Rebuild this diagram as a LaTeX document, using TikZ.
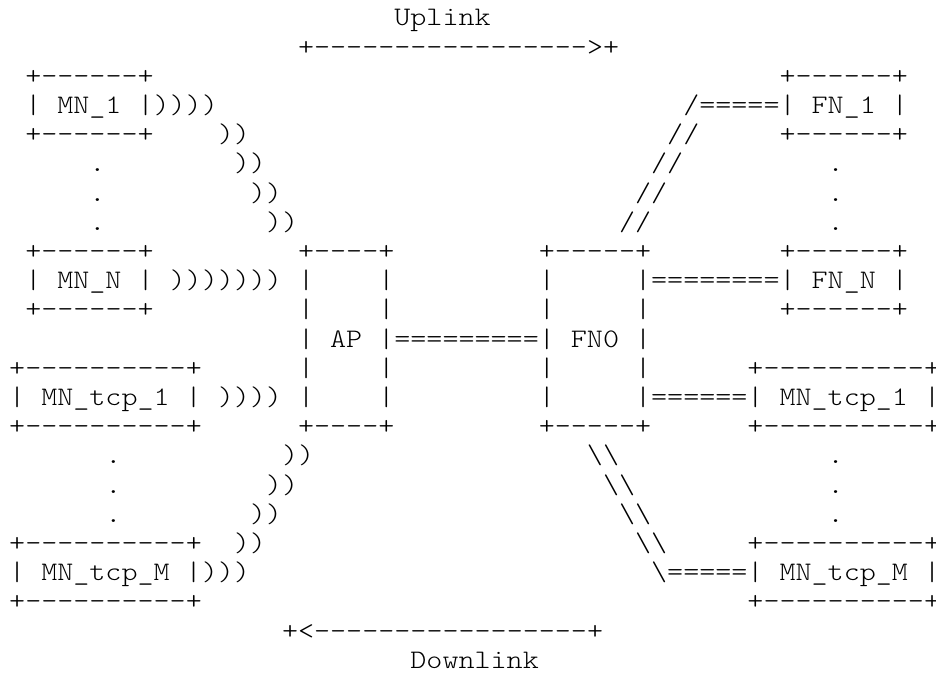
\documentclass[tikz,border=0pt]{standalone}
\usepackage{fontspec}
\setmonofont{lmmonolt10-regular.otf}[FakeStretch=1.143]
\begin{document}
\begin{tikzpicture}[x=16.05pt,y=-29.2pt,
    ascii/.style={anchor=base west,inner sep=0pt,font=\fontsize{26.75}{29.2}\selectfont\ttfamily}]
  \useasboundingbox (-0.561,-0.890) rectangle (57.76,22.295);
  % uplink bar
  \node[ascii] (uplink) at (24,0) {Uplink};
  \node[ascii] (upbar) at (18,1) {+----------------->+};
  % MN_1 and FN_1
  \node[ascii] (mnonetop) at (1,2) {+------+};
  \node[ascii] (fnonetop) at (48,2) {+------+};
  \node[ascii] (mnone) at (1,3) {| MN\_1 |))))};
  \node[ascii] (fnone) at (42,3) {/=====| FN\_1 |};
  \node[ascii] (mnonebot) at (1,4) {+------+};
  \node[ascii] (fnonebot) at (48,4) {+------+};
  \foreach \r in {4,...,7} {
    \node[ascii] (wave\r) at (\r+9,\r) {))};
    \node[ascii] (fwd\r) at (45-\r,\r) {//};
  }
  \foreach \r in {5,6,7} {
    \node[ascii] (mndot\r) at (5,\r) {.};
    \node[ascii] (fndot\r) at (51,\r) {.};
  }
  % MN_N, AP, FN0, FN_N
  \node[ascii] (mnntop) at (1,8) {+------+};
  \node[ascii] (aptop) at (18,8) {+----+};
  \node[ascii] (fnzerotop) at (33,8) {+-----+};
  \node[ascii] (fnntop) at (48,8) {+------+};
  \node[ascii] (mnn) at (1,9) {| MN\_N | )))))))};
  \node[ascii] (fnn) at (40,9) {========| FN\_N |};
  \node[ascii] (mnnbot) at (1,10) {+------+};
  \node[ascii] (fnnbot) at (48,10) {+------+};
  \foreach \r in {9,10,12,13}
    \foreach \c in {18,23,33,39}
      \node[ascii] (side\r-\c) at (\c,\r) {|};
  \node[ascii] (ap) at (18,11) {| AP |};
  \node[ascii] (wire) at (24,11) {=========};
  \node[ascii] (fnzero) at (33,11) {| FN0 |};
  % MN_tcp_1
  \node[ascii] (tcponetop) at (0,12) {+----------+};
  \node[ascii] (rtcponetop) at (46,12) {+----------+};
  \node[ascii] (tcpone) at (0,13) {| MN\_tcp\_1 | ))))};
  \node[ascii] (rtcpone) at (40,13) {======| MN\_tcp\_1 |};
  \node[ascii] (tcponebot) at (0,14) {+----------+};
  \node[ascii] (apbot) at (18,14) {+----+};
  \node[ascii] (fnzerobot) at (33,14) {+-----+};
  \node[ascii] (rtcponebot) at (46,14) {+----------+};
  \foreach \r in {15,...,18} {
    \node[ascii] (back\r) at (32-\r,\r) {))};
    \node[ascii] (bwd\r) at (\r+21,\r) {\textbackslash\textbackslash};
  }
  \foreach \r in {15,16,17} {
    \node[ascii] (tcpdot\r) at (6,\r) {.};
    \node[ascii] (rtcpdot\r) at (51,\r) {.};
  }
  % MN_tcp_M
  \node[ascii] (tcpmtop) at (0,18) {+----------+};
  \node[ascii] (rtcpmtop) at (46,18) {+----------+};
  \node[ascii] (tcpm) at (0,19) {| MN\_tcp\_M |)))};
  \node[ascii] (rtcpm) at (40,19) {\textbackslash=====| MN\_tcp\_M |};
  \node[ascii] (tcpmbot) at (0,20) {+----------+};
  \node[ascii] (rtcpmbot) at (46,20) {+----------+};
  % downlink bar
  \node[ascii] (downbar) at (17,21) {+<-----------------+};
  \node[ascii] (downlink) at (25,22) {Downlink};
\end{tikzpicture}
\end{document}
